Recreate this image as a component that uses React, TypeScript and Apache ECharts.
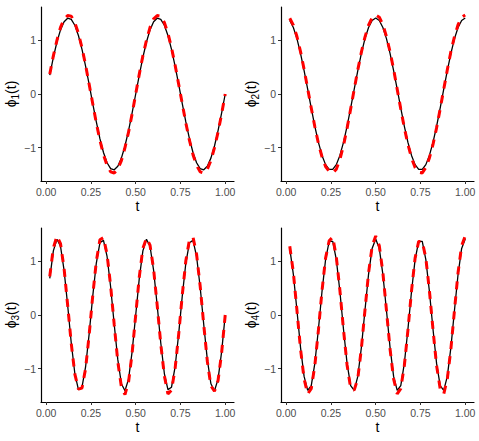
import React, { useEffect, useRef } from "react";
import * as echarts from "echarts";

const tGrid = [
  0.02, 0.04, 0.06, 0.08, 0.1, 0.12, 0.14, 0.16, 0.18, 0.2,
  0.22, 0.24, 0.26, 0.28, 0.3, 0.32, 0.34, 0.36, 0.38, 0.4,
  0.42, 0.44, 0.46, 0.48, 0.5, 0.52, 0.54, 0.56, 0.58, 0.6,
  0.62, 0.64, 0.66, 0.68, 0.7, 0.72, 0.74, 0.76, 0.78, 0.8,
  0.82, 0.84, 0.86, 0.88, 0.9, 0.92, 0.94, 0.96, 0.98, 1.0,
];

const xTicks = [0, 0.25, 0.5, 0.75, 1];
const yTicks = [-1, 0, 1];

// true basis functions (black)
const phi1True = [
  0.352, 0.681, 0.968, 1.194, 1.345, 1.411, 1.389, 1.28, 1.09, 0.831,
  0.521, 0.177, -0.177, -0.521, -0.831, -1.09, -1.28, -1.389, -1.411, -1.345,
  -1.194, -0.968, -0.681, -0.352, 0.0, 0.352, 0.681, 0.968, 1.194, 1.345,
  1.411, 1.389, 1.28, 1.09, 0.831, 0.521, 0.177, -0.177, -0.521, -0.831,
  -1.09, -1.28, -1.389, -1.411, -1.345, -1.194, -0.968, -0.681, -0.352, 0.0,
];
const phi2True = [
  1.37, 1.239, 1.031, 0.758, 0.437, 0.089, -0.265, -0.602, -0.901, -1.144,
  -1.315, -1.403, -1.403, -1.315, -1.144, -0.901, -0.602, -0.265, 0.089, 0.437,
  0.758, 1.031, 1.239, 1.37, 1.414, 1.37, 1.239, 1.031, 0.758, 0.437,
  0.089, -0.265, -0.602, -0.901, -1.144, -1.315, -1.403, -1.403, -1.315, -1.144,
  -0.901, -0.602, -0.265, 0.089, 0.437, 0.758, 1.031, 1.239, 1.37, 1.414,
];
const phi3True = [
  0.681, 1.194, 1.411, 1.28, 0.831, 0.177, -0.521, -1.09, -1.389, -1.345,
  -0.968, -0.352, 0.352, 0.968, 1.345, 1.389, 1.09, 0.521, -0.177, -0.831,
  -1.28, -1.411, -1.194, -0.681, 0.0, 0.681, 1.194, 1.411, 1.28, 0.831,
  0.177, -0.521, -1.09, -1.389, -1.345, -0.968, -0.352, 0.352, 0.968, 1.345,
  1.389, 1.09, 0.521, -0.177, -0.831, -1.28, -1.411, -1.194, -0.681, 0.0,
];
const phi4True = [
  1.239, 0.758, 0.089, -0.602, -1.144, -1.403, -1.315, -0.901, -0.265, 0.437,
  1.031, 1.37, 1.37, 1.031, 0.437, -0.265, -0.901, -1.315, -1.403, -1.144,
  -0.602, 0.089, 0.758, 1.239, 1.414, 1.239, 0.758, 0.089, -0.602, -1.144,
  -1.403, -1.315, -0.901, -0.265, 0.437, 1.031, 1.37, 1.37, 1.031, 0.437,
  -0.265, -0.901, -1.315, -1.403, -1.144, -0.602, 0.089, 0.758, 1.239, 1.414,
];

// estimated functions (red dashed)
const phi1Est = [
  0.37, 0.71, 1.0, 1.24, 1.4, 1.46, 1.45, 1.33, 1.13, 0.86,
  0.54, 0.18, -0.18, -0.54, -0.86, -1.13, -1.33, -1.45, -1.47, -1.4,
  -1.24, -1.0, -0.71, -0.37, 0.0, 0.37, 0.71, 1.0, 1.24, 1.4,
  1.46, 1.45, 1.33, 1.13, 0.86, 0.54, 0.18, -0.18, -0.54, -0.86,
  -1.13, -1.33, -1.45, -1.47, -1.4, -1.24, -1.0, -0.71, -0.37, 0.0,
];
const phi2Est = [
  1.41, 1.28, 1.07, 0.79, 0.46, 0.1, -0.26, -0.61, -0.92, -1.17,
  -1.35, -1.44, -1.47, -1.4, -1.22, -0.96, -0.64, -0.28, 0.09, 0.45,
  0.78, 1.06, 1.28, 1.42, 1.47, 1.43, 1.29, 1.07, 0.79, 0.46,
  0.09, -0.28, -0.63, -0.94, -1.19, -1.37, -1.46, -1.47, -1.37, -1.19,
  -0.94, -0.63, -0.28, 0.09, 0.45, 0.79, 1.07, 1.29, 1.43, 1.47,
];
const phi3Est = [
  0.72, 1.25, 1.47, 1.33, 0.86, 0.18, -0.53, -1.1, -1.38, -1.36,
  -1.0, -0.37, 0.36, 1.0, 1.4, 1.44, 1.13, 0.54, -0.18, -0.87,
  -1.34, -1.48, -1.25, -0.71, 0.0, 0.71, 1.24, 1.43, 1.3, 0.85,
  0.18, -0.54, -1.13, -1.47, -1.4, -1.0, -0.36, 0.37, 1.01, 1.4,
  1.45, 1.13, 0.54, -0.18, -0.86, -1.32, -1.42, -1.22, -0.7, 0.0,
];
const phi4Est = [
  1.28, 0.79, 0.09, -0.63, -1.19, -1.47, -1.37, -0.94, -0.28, 0.45,
  1.06, 1.38, 1.45, 1.08, 0.46, -0.27, -0.93, -1.36, -1.4, -1.18,
  -0.62, 0.09, 0.78, 1.28, 1.47, 1.29, 0.79, 0.09, -0.63, -1.19,
  -1.47, -1.37, -0.94, -0.28, 0.45, 1.06, 1.37, 1.37, 1.06, 0.45,
  -0.27, -0.94, -1.37, -1.47, -1.19, -0.63, 0.09, 0.79, 1.29, 1.47,
];

const panels = [
  { sub: "1", truth: phi1True, est: phi1Est },
  { sub: "2", truth: phi2True, est: phi2Est },
  { sub: "3", truth: phi3True, est: phi3Est },
  { sub: "4", truth: phi4True, est: phi4Est },
];

const FONT = "'Liberation Sans', Arial, Helvetica, sans-serif";

export default function App() {
  const ref = useRef<HTMLDivElement>(null);
  useEffect(() => {
    if (!ref.current) return;
    const chart = echarts.init(ref.current, undefined, { renderer: "svg" });
    const gridPos = [
      { left: 41, top: 7, width: 193, height: 174 },
      { left: 281, top: 7, width: 193, height: 174 },
      { left: 41, top: 228, width: 193, height: 174 },
      { left: 281, top: 228, width: 193, height: 174 },
    ];
    const grid = gridPos.map((g) => ({ ...g, containLabel: false }));
    const xAxis = panels.map((_, i) => ({
      type: "value",
      gridIndex: i,
      min: -0.029,
      max: 1.049,
      splitLine: { show: false },
      axisLine: { show: true, onZero: false, lineStyle: { color: "#000", width: 1.2 } },
      axisTick: { show: true, length: 3, customValues: xTicks, lineStyle: { color: "#333", width: 1 } },
      axisLabel: {
        customValues: xTicks,
        formatter: (v: number) => v.toFixed(2),
        color: "#4d4d4d",
        fontSize: 10.5,
        fontFamily: FONT,
        margin: 5,
      },
      name: "t",
      nameLocation: "middle",
      nameGap: 18,
      nameTextStyle: { color: "#000", fontSize: 14, fontFamily: FONT },
    }));
    const yAxis = panels.map((p, i) => ({
      type: "value",
      gridIndex: i,
      min: -1.62,
      max: 1.62,
      splitLine: { show: false },
      axisLine: { show: true, onZero: false, lineStyle: { color: "#000", width: 1.2 } },
      axisTick: { show: true, length: 3, customValues: yTicks, lineStyle: { color: "#333", width: 1 } },
      axisLabel: {
        customValues: yTicks,
        formatter: (v: number) => (v < 0 ? "\u2212" + Math.abs(v) : String(v)),
        color: "#4d4d4d",
        fontSize: 10.5,
        fontFamily: FONT,
        margin: 5,
      },
      name: "{g|\u03d5}{s|" + p.sub + "}{g|(t)}",
      nameLocation: "middle",
      nameRotate: 90,
      nameGap: 20,
      nameTextStyle: {
        color: "#000",
        fontFamily: FONT,
        rich: {
          g: { fontSize: 14, color: "#000", fontFamily: FONT, lineHeight: 18, verticalAlign: "middle" },
          s: { fontSize: 10, color: "#000", fontFamily: FONT, lineHeight: 18, verticalAlign: "bottom", padding: [6, 0, 0, 0] },
        },
      },
    }));
    const series: any[] = [];
    panels.forEach((p, i) => {
      series.push({
        type: "line",
        xAxisIndex: i,
        yAxisIndex: i,
        data: tGrid.map((t, k) => [t, p.truth[k]]),
        showSymbol: false,
        lineStyle: { color: "#000", width: 1.3 },
        z: 2,
      });
      series.push({
        type: "line",
        xAxisIndex: i,
        yAxisIndex: i,
        data: tGrid.map((t, k) => [t, p.est[k]]),
        showSymbol: false,
        lineStyle: { color: "#ff0000", width: 3, type: [8, 7] },
        z: 3,
      });
    });
    chart.setOption({
      animation: false,
      backgroundColor: "#fff",
      grid,
      xAxis,
      yAxis,
      series,
    });
    return () => chart.dispose();
  }, []);
  return <div ref={ref} style={{ width: 479, height: 441, position: "absolute", left: 0, top: 0 }} />;
}
